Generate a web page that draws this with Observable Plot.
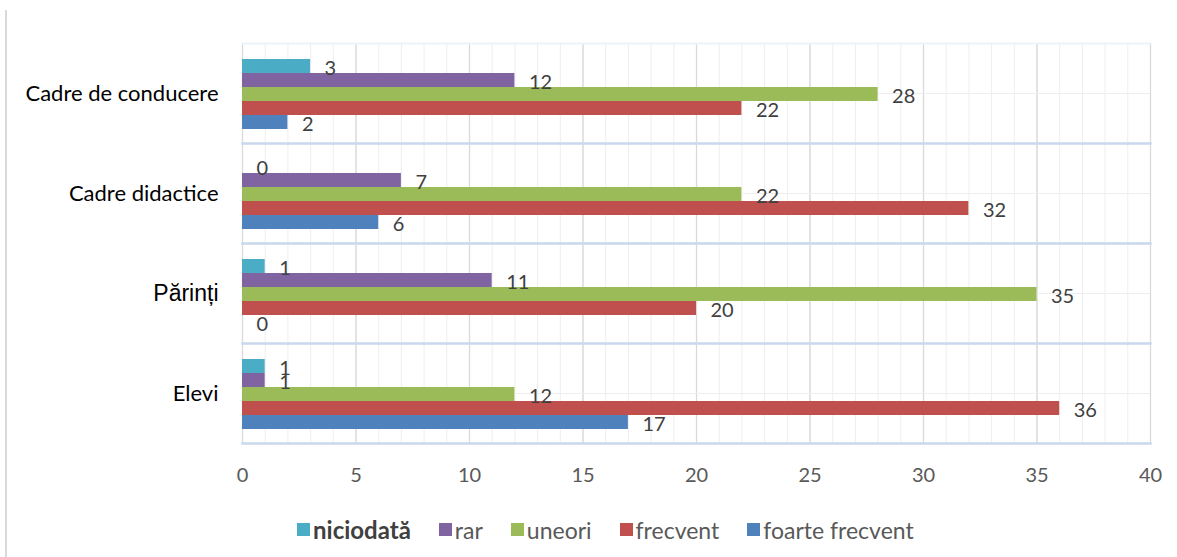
<!DOCTYPE html>
<html>
<head>
<meta charset="utf-8">
<script src="https://cdn.jsdelivr.net/npm/d3@7"></script>
<script src="https://cdn.jsdelivr.net/npm/@observablehq/plot@0.6"></script>
<style>
  html, body { margin: 0; padding: 0; background: #fff; }
  body { width: 1177px; height: 557px; position: relative; overflow: hidden; font-family: Lato, "Open Sans", sans-serif; }
  #chart { position: absolute; left: 0; top: 0; }
  #leftline { position: absolute; left: 5px; top: 10px; width: 2px; height: 547px; background: #d9d9d9; }
  #legend { position: absolute; top: 515px; left: 297px; display: flex; gap: 28px; font-size: 23px; color: #595959; align-items: center; }
  #legend .item { display: flex; align-items: center; gap: 3px; }
  #legend .sw { width: 13px; height: 13px; display: inline-block; }
</style>
</head>
<body>
<div id="leftline"></div>
<div id="chart"></div>
<div id="legend"></div>
<script>
const categories = ["Cadre de conducere", "Cadre didactice", "Părinți", "Elevi"];
const series = ["niciodată", "rar", "uneori", "frecvent", "foarte frecvent"];
const colors = ["#4bacc6", "#8064a2", "#9bbb59", "#c0504d", "#4f81bd"];
// values per series, in category order
const niciodata = [3, 0, 1, 1];
const rar = [12, 7, 11, 1];
const uneori = [28, 22, 35, 12];
const frecvent = [22, 32, 20, 36];
const foarteFrecvent = [2, 6, 0, 17];
const xTicks = [0, 5, 10, 15, 20, 25, 30, 35, 40];

const seriesValues = [niciodata, rar, uneori, frecvent, foarteFrecvent];
const data = [];
categories.forEach((c, ci) => {
  series.forEach((s, si) => {
    data.push({category: c, series: s, value: seriesValues[si][ci]});
  });
});

const chart = Plot.plot({
  width: 1177,
  height: 500,
  marginLeft: 242,
  marginRight: 27,
  marginTop: 43,
  marginBottom: 57,
  style: {fontFamily: "Lato, sans-serif", background: "transparent"},
  x: {domain: [0, 40], axis: null},
  y: {domain: series, paddingInner: 0, paddingOuter: 0.94, align: 0.53, axis: null},
  fy: {domain: categories, padding: 0, axis: null},
  color: {domain: series, range: colors},
  marks: [
    Plot.gridX({ticks: d3.range(0, 41, 1), stroke: "#eeeeee", strokeOpacity: 1, strokeWidth: 1}),
    Plot.gridX({ticks: xTicks, stroke: "#d9d9d9", strokeOpacity: 1, strokeWidth: 1.3}),
    Plot.gridFy({stroke: "#eeeeee", strokeOpacity: 1}),
    Plot.frame({anchor: "top", stroke: "#eef3f9", strokeWidth: 2}),
    Plot.frame({anchor: "bottom", stroke: "#c9d8ec", strokeWidth: 2.5}),
    Plot.barX(data, {x: "value", y: "series", fy: "category", fill: "series"}),
    Plot.text(data, {x: "value", y: "series", fy: "category", text: d => String(d.value),
      textAnchor: "start", dx: 14, dy: 2, fontSize: 20, fill: "#404040"}),
    Plot.axisX({ticks: xTicks, tickSize: 0, tickPadding: 24, fontSize: 20, color: "#595959", label: null}),
    Plot.axisFy({anchor: "left", tickSize: 0, tickPadding: 24, fontSize: 22, color: "#000", label: null})
  ]
});
document.getElementById("chart").appendChild(chart);

// Părinți label is set in a different typeface in the original
d3.select(chart).selectAll("text").filter(function() { return this.textContent === "Părinți"; })
  .style("font-family", "'Liberation Sans', Arial, sans-serif").style("font-size", "23px");

const legend = d3.select("#legend");
series.forEach((s, i) => {
  const it = legend.append("div").attr("class", "item");
  it.append("span").attr("class", "sw").style("background", colors[i]);
  it.append("span").text(s)
    .style("color", i === 0 ? "#404040" : "#595959")
    .style("font-weight", i === 0 ? "700" : "400")
    .style("font-size", i === 0 ? "24px" : null);
});
</script>
</body>
</html>
